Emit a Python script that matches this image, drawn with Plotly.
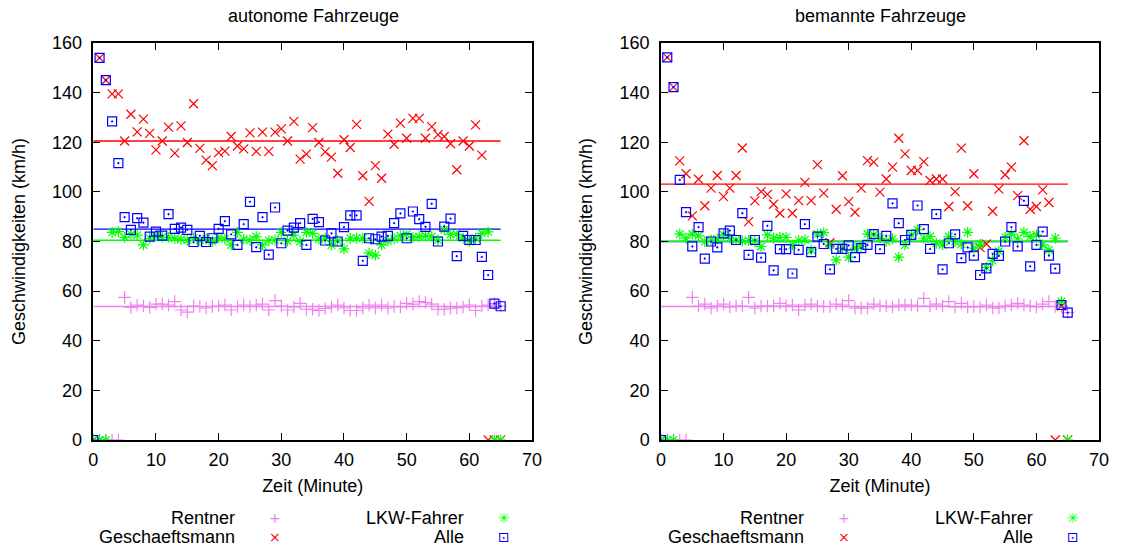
import plotly.graph_objects as go

W, H = 1123, 549
minutes = list(range(66))

# ---------- left: autonome Fahrzeuge ----------
auto_rentner = [0, 0, 0, 0, 0, 57.5, 53.4, 54.4, 54, 53.4, 54.8, 54.8, 54.4, 55.8, 52.4, 51.5,
                54, 53.8, 53.2, 53.8, 54, 54.4, 52.4, 53.8, 54.4, 53.8, 54.4, 54.8, 52.4, 56.2,
                54, 52.4, 53.6, 55.1, 52.7, 52.7, 52.2, 53, 53.6, 54.4, 53.2, 52.2, 52.2, 53.2,
                54.4, 53.2, 54.4, 53.2, 53.8, 53.6, 55.1, 54.8, 55.8, 55.4, 54.8, 52.7, 52.7,
                53.2, 53.2, 53.6, 54.4, 52.2, 54, 54.4, 55, 54]
auto_gesch = [0, 154, 145, 139.5, 139.5, 120.5, 131.3, 124.2, 129.3, 123.6, 116.9, 120.5, 126.1,
              115.6, 126.6, 119.9, 135.5, 117.5, 112.8, 110.6, 115.8, 116.4, 122.3, 118.5, 117.3,
              123.8, 116.3, 124.1, 116.3, 124.1, 125.4, 120.5, 128.4, 113.2, 115.2, 125.9, 119.9,
              116.1, 114, 107.5, 121, 117.9, 127.2, 106.5, 96.2, 110.6, 105.5, 123.3, 119.2,
              127.7, 121.6, 129.6, 129.6, 121.6, 126.3, 123.1, 122.3, 119.4, 108.9, 120.5, 118.5,
              127, 114.8, 0, 0, 0]
auto_lkw = [0, 0, 0, 83.7, 84, 81.7, 82.9, 82.6, 78.6, 81.3, 82.3, 81.7, 81.7, 81.3, 80.9, 80.5,
            81.3, 80.5, 81, 80, 81.5, 81, 78.6, 83.7, 81, 80.5, 82, 78.6, 80.4, 80.6, 83.7, 80.2,
            82.6, 80, 83.7, 83.3, 81, 81.3, 78.6, 80.2, 77, 81.3, 81.3, 81.3, 75.3, 74.5, 78.6,
            80.2, 81, 82.3, 82.9, 81.7, 82, 82.3, 82, 80.6, 84.7, 82.9, 82.9, 81.3, 80, 81.3,
            83.3, 83.9, 0, 0]
auto_alle = [0, 154, 145, 128.4, 111.6, 89.8, 84.7, 89.4, 87.6, 82, 84, 82.4, 91, 85.1, 85.6,
             84.7, 79.8, 82.3, 79.8, 81.3, 85.1, 88.2, 82.9, 78.6, 87, 96, 77.7, 89.8, 74.7, 93.7,
             79.3, 84.4, 85.6, 87.4, 78.6, 89.1, 87.8, 80.4, 83.3, 80, 85.8, 90.5, 90.5, 72.2,
             81.3, 80.9, 82, 82.3, 87.4, 91.3, 81.3, 92.1, 89, 85.9, 95.2, 80, 86, 89.2, 74.1,
             82.3, 80.6, 80.6, 73.8, 66.5, 55, 53.9]
auto_means = {"Rentner": 53.8, "Geschaeftsmann": 120.5, "LKW-Fahrer": 80.5, "Alle": 85.0}

# ---------- right: bemannte Fahrzeuge ----------
bem_rentner = [0, 0, 0, 0, 0, 57.5, 54, 54.8, 53.2, 54, 54.8, 53.6, 54, 54, 57.5, 53.2, 54, 54,
               54, 55.1, 54, 54.4, 52.4, 54.4, 54.8, 54, 53.8, 53.8, 54.8, 54.4, 56.2, 53.2, 53.2,
               53.2, 54.8, 54, 54, 53.6, 54.4, 54.4, 54.4, 54, 57.1, 54, 54.8, 54, 55.8, 53.6,
               55.1, 53.6, 53.8, 53.6, 54.4, 53.2, 53.2, 54, 54.4, 55.1, 54.4, 54, 53.6, 54.8,
               55.8, 53.8, 54, 51.3]
bem_gesch = [0, 154.2, 142.2, 112.5, 107.3, 90.3, 105.1, 94.4, 101.5, 106.6, 98.1, 101.5, 106.6,
             117.7, 88, 96.4, 100.1, 99, 95, 91.4, 99.2, 91.4, 96.5, 103.8, 96.5, 111, 99.5, 79.5,
             93, 106.5, 96.1, 91.8, 101.5, 112.6, 112, 99.9, 105.2, 110, 121.6, 115.3, 108.6,
             108.6, 112.2, 104.6, 105.2, 105.2, 94.1, 100.1, 117.6, 94.4, 107.3, 77.5, 79, 92.2,
             101.1, 106.9, 110, 98.5, 120.6, 93, 94.1, 100.8, 95.7, 0, 54, 0]
bem_lkw = [0, 0, 0, 83, 81.3, 83, 82.3, 80, 80.6, 81, 82.7, 81.3, 80.6, 80.2, 80.4, 80, 78, 82.7,
           81.3, 81.7, 81.7, 78.6, 80.4, 80.6, 76.6, 83, 83.6, 78.6, 72.6, 77.3, 73.7, 77.3, 78,
           83, 82.7, 81.3, 80, 81, 73.7, 78.6, 82.7, 84.7, 81.3, 82, 79.3, 78.6, 82, 80, 79,
           83.7, 77.3, 78.9, 69.6, 72.3, 76.1, 81.7, 83, 81, 83.7, 82, 82.7, 78.6, 76.6, 81.3,
           55.8, 0]
bem_alle = [0, 154.2, 142.2, 104.8, 91.8, 78, 85.8, 73.1, 80, 77.6, 83.3, 84.4, 80.6, 91.4, 74.6,
            80.6, 73.5, 86.3, 68.4, 76.9, 76.9, 67.1, 76.6, 87, 75.7, 82, 79, 68.8, 77, 77, 78.4,
            73.7, 77.3, 78.6, 83, 76.9, 82.3, 95.4, 87.4, 80.6, 82.7, 94.5, 85, 77, 91, 68.8,
            79.3, 82.9, 73.3, 77.6, 74.3, 66.5, 69.2, 75, 74.2, 80, 85.8, 78, 96.4, 70, 78.6, 84,
            74.3, 69.1, 54.4, 51.3]
bem_means = {"Rentner": 53.8, "Geschaeftsmann": 103.1, "LKW-Fahrer": 80.1, "Alle": 80.0}

series_names = ["Rentner", "Geschaeftsmann", "LKW-Fahrer", "Alle"]
line_order = ["Rentner", "Geschaeftsmann", "Alle", "LKW-Fahrer"]
colors = {"Rentner": "#ee82ee", "Geschaeftsmann": "#ff0000", "LKW-Fahrer": "#00ff00", "Alle": "#0000ff"}
symbols = {"Rentner": "cross-thin-open", "Geschaeftsmann": "x-thin-open",
           "LKW-Fahrer": "asterisk-open", "Alle": "square-open-dot"}
glyphs = {"Rentner": "+", "Geschaeftsmann": "×", "LKW-Fahrer": "✳", "Alle": "⊡"}

panels = [
    ("x", "y", {"Rentner": auto_rentner, "Geschaeftsmann": auto_gesch,
                "LKW-Fahrer": auto_lkw, "Alle": auto_alle}, auto_means),
    ("x2", "y2", {"Rentner": bem_rentner, "Geschaeftsmann": bem_gesch,
                  "LKW-Fahrer": bem_lkw, "Alle": bem_alle}, bem_means),
]

fig = go.Figure()
for xa, ya, data, means in panels:
    for name in line_order:
        fig.add_trace(go.Scatter(
            x=[minutes[0], minutes[-1]], y=[means[name], means[name]], mode="lines",
            xaxis=xa, yaxis=ya, showlegend=False,
            line=dict(color=colors[name], width=1.3), hoverinfo="skip"))
    for name in series_names:
        fig.add_trace(go.Scatter(
            x=minutes, y=data[name], mode="markers", xaxis=xa, yaxis=ya, showlegend=False,
            marker=dict(symbol=symbols[name], size=9, color=colors[name],
                        line=dict(color=colors[name], width=1.2)),
            name=name))

font = dict(family="Liberation Sans, Arial, sans-serif", size=18, color="black")

def px2x(px):
    return px / W

def py2y(py):
    return 1 - py / H

axis_common = dict(range=[0, 70], dtick=10, ticks="inside", ticklen=7, tickwidth=1.2,
                   tickcolor="black", showline=True, linecolor="black", linewidth=1.5,
                   mirror="ticks", showgrid=False, zeroline=False, tickfont=font,
                   automargin=False, ticklabelstandoff=3)
yaxis_common = dict(range=[0, 160], dtick=20, ticks="inside", ticklen=7, tickwidth=1.2,
                    tickcolor="black", showline=True, linecolor="black", linewidth=1.5,
                    mirror="ticks", showgrid=False, zeroline=False, tickfont=font,
                    automargin=False, ticklabelstandoff=6)

ydom = [py2y(440), py2y(43)]
fig.update_layout(
    width=W, height=H, margin=dict(l=0, r=0, t=0, b=0),
    paper_bgcolor="white", plot_bgcolor="white", font=font, showlegend=False,
    xaxis=dict(domain=[px2x(93.3), px2x(532)], anchor="y",
               title=dict(text="Zeit (Minute)", font=font, standoff=10), **axis_common),
    yaxis=dict(domain=ydom, anchor="x",
               title=dict(text="Geschwindigkeiten (km/h)", font=font, standoff=22), **yaxis_common),
    xaxis2=dict(domain=[px2x(661), px2x(1099)], anchor="y2",
                title=dict(text="Zeit (Minute)", font=font, standoff=10), **axis_common),
    yaxis2=dict(domain=ydom, anchor="x2",
                title=dict(text="Geschwindigkeiten (km/h)", font=font, standoff=22), **yaxis_common),
)

annotations = []
for title, cx in [("autonome Fahrzeuge", 313), ("bemannte Fahrzeuge", 880)]:
    annotations.append(dict(text=title, x=px2x(cx), y=py2y(16), xref="paper", yref="paper",
                            showarrow=False, font=font, xanchor="center", yanchor="middle"))

legend_layout = [
    # (name, text right edge px, symbol center px, row y px)
    ("Rentner", 237, 275, 518), ("Geschaeftsmann", 237, 275, 537),
    ("LKW-Fahrer", 466, 504, 518), ("Alle", 466, 504, 537),
]
for offset in [0, 569]:
    for name, tx, sx, ry in legend_layout:
        annotations.append(dict(text=name, x=px2x(tx + offset), y=py2y(ry), xref="paper",
                                yref="paper", showarrow=False, font=font,
                                xanchor="right", yanchor="middle"))
        annotations.append(dict(text=glyphs[name], x=px2x(sx + offset), y=py2y(ry), xref="paper",
                                yref="paper", showarrow=False,
                                font=dict(family="DejaVu Sans", size=14, color=colors[name]),
                                xanchor="center", yanchor="middle"))
fig.update_layout(annotations=annotations)

fig.write_html("out.html", config={"displayModeBar": False},
               post_script="document.body.style.margin='0';document.body.style.overflow='hidden';")
